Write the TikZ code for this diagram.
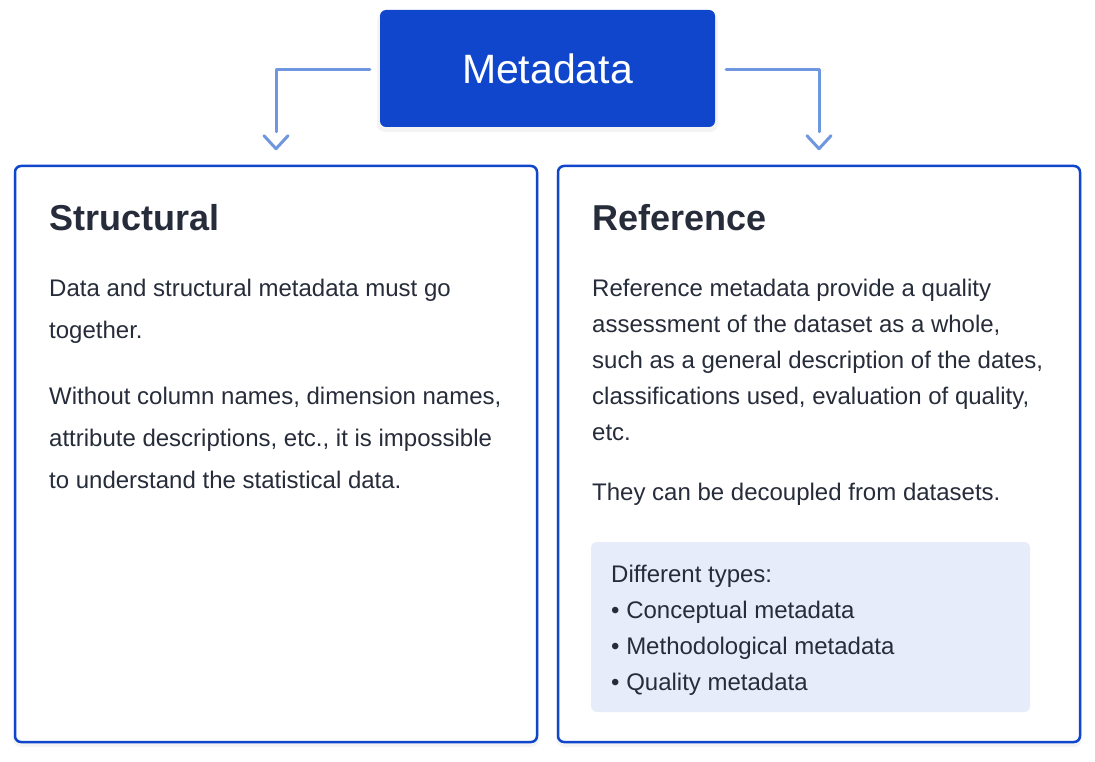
\documentclass[tikz,border=0pt]{standalone}
\usepackage{fontspec}
\setmainfont{Liberation Sans}
\usetikzlibrary{calc}
\definecolor{blueA}{HTML}{1046CC}
\definecolor{connc}{HTML}{6F97E0}
\definecolor{txt}{HTML}{262C3A}
\definecolor{infofill}{HTML}{E6ECFA}
\tikzset{
  card/.style={draw=blueA, line width=2.5pt, fill=white, rounded corners=6pt, inner sep=0pt},
  metabox/.style={fill=blueA, rounded corners=6pt, inner sep=0pt, text=white,
    font=\fontsize{41}{48}\selectfont},
  infobox/.style={fill=infofill, rounded corners=6pt, inner sep=0pt},
  conn/.style={draw=connc, line width=3pt, line join=round, line cap=round},
  title/.style={anchor=base west, inner sep=0pt, text=txt, font=\fontsize{36}{40}\selectfont\bfseries},
  body/.style={anchor=base west, inner sep=0pt, text=txt, font=\fontsize{24}{28}\selectfont},
  shadowbox/.style={fill=black, opacity=0.045, rounded corners=8pt}
}
\begin{document}
\begin{tikzpicture}[x=1pt,y=-1pt]
\useasboundingbox (0,0) rectangle (1095,762);
\fill[white] (0,0) rectangle (1095,762);

% shadows
\fill[shadowbox] (377,13) rectangle (718,132);
\fill[shadowbox] (13,169) rectangle (539,747);
\fill[shadowbox] (556,169) rectangle (1082,747);

% boxes
\node[metabox, minimum width=335pt, minimum height=117pt] (meta) at (547.5,68.5) {Metadata};
\node[card, minimum width=522pt, minimum height=576pt] (left) at (276,454) {};
\node[card, minimum width=522pt, minimum height=576pt] (right) at (819,454) {};
\node[infobox, minimum width=439pt, minimum height=170pt] (info) at (810.5,627) {};

% connectors
\coordinate (la) at ($(left.north)+(0,-33)$);
\coordinate (ra) at ($(right.north)+(0,-33)$);
\draw[conn] ($(meta.west)+(-10,1.5)$) -| (la);
\draw[conn] ($(meta.east)+(11,1.5)$) -| (ra);
\draw[conn] ($(left.north)+(-12,-29)$) -- ($(left.north)+(0,-16)$) -- ($(left.north)+(12,-29)$);
\draw[conn] ($(right.north)+(-12,-29)$) -- ($(right.north)+(0,-16)$) -- ($(right.north)+(12,-29)$);

% left texts
\node[title] (lt) at (49,230) {Structural};
\node[body] (l1) at (49,296) {Data and structural metadata must go};
\node[body] (l2) at (49,338) {together.};
\node[body] (l3) at (49,404) {Without column names, dimension names,};
\node[body] (l4) at (49,446) {attribute descriptions, etc., it is impossible};
\node[body] (l5) at (49,488) {to understand the statistical data.};

% right texts
\node[title] (rt) at (592,230) {Reference};
\node[body] (r1) at (592,296) {Reference metadata provide a quality};
\node[body] (r2) at (592,332) {assessment of the dataset as a whole,};
\node[body] (r3) at (592,368) {such as a general description of the dates,};
\node[body] (r4) at (592,404) {classifications used, evaluation of quality,};
\node[body] (r5) at (592,440) {etc.};
\node[body] (r6) at (592,500) {They can be decoupled from datasets.};

% info texts
\node[body] (i0) at (611,582) {Different types:};
\node[body] (i1) at (611,618) {• Conceptual metadata};
\node[body] (i2) at (611,654) {• Methodological metadata};
\node[body] (i3) at (611,690) {• Quality metadata};
\end{tikzpicture}
\end{document}
